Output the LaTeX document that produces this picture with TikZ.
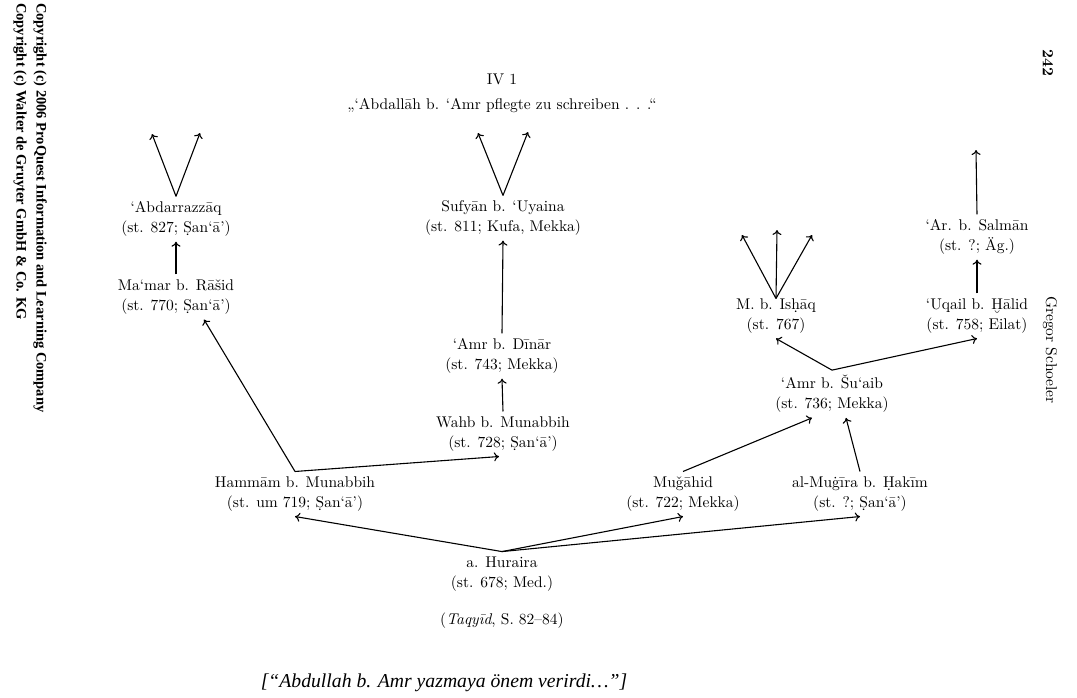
\documentclass[tikz,border=0pt]{standalone}
\usepackage{fontspec}
\usetikzlibrary{arrows.meta}
\setmainfont{lmroman10-regular.otf}[BoldFont=lmroman10-bold.otf,ItalicFont=lmroman10-italic.otf]
\newfontfamily\timesfont{Liberation Serif}
\tikzset{
	person/.style={align=center,inner sep=5pt,font=\fontsize{15.5}{20}\selectfont},
	link/.style={-{To[length=5pt,width=9pt]},line width=1.1pt},
}
\begin{document}
\begin{tikzpicture}
			\begin{scope}[x={1pt},y={-1pt}]
				\useasboundingbox (0,0) rectangle (1077,697);

				% page margins
				\node[rotate=-90,anchor=north west,align=left,inner sep=0pt,font=\timesfont\bfseries\fontsize{14.5}{20}\selectfont] (copyright) at (47,3) {Copyright (c) 2006 ProQuest Information and Learning Company\\Copyright (c) Walter de Gruyter GmbH \& Co. KG};
				\node[rotate=-90,inner sep=0pt,font=\fontsize{15.5}{20}\selectfont\bfseries] (pagenum) at (1048,63) {242};
				\node[rotate=-90,inner sep=0pt,font=\fontsize{15.5}{20}\selectfont] (author) at (1050,350) {Gregor Schoeler};

				% heading
				\node[person] (title) at (502,79) {IV 1};
				\node[person] (quote) at (502,106) {„‘Abdallāh b. ‘Amr pflegte zu schreiben . . .“};

				% transmitters
				\node[person] (abd) at (176,219) {‘Abdarrazzāq\\(st. 827; Ṣan‘ā’)};
				\node[person] (mamar) at (176,297) {Ma‘mar b. Rāšid\\(st. 770; Ṣan‘ā’)};
				\node[person] (sufyan) at (503,218) {Sufyān b. ‘Uyaina\\(st. 811; Kufa, Mekka)};
				\node[person] (dinar) at (502,356) {‘Amr b. Dīnār\\(st. 743; Mekka)};
				\node[person] (wahb) at (503,434) {Wahb b. Munabbih\\(st. 728; Ṣan‘ā’)};
				\node[person] (hammam) at (295,494) {Hammām b. Munabbih\\(st. um 719; Ṣan‘ā’)};
				\node[person] (mugahid) at (683,494) {Muǧāhid\\(st. 722; Mekka)};
				\node[person] (mugira) at (860,494) {al-Muġīra b. Ḥakīm\\(st. ?; Ṣan‘ā’)};
				\node[person] (huraira) at (502,574) {a. Huraira\\(st. 678; Med.)};
				\node[person] (suaib) at (832,394) {‘Amr b. Šu‘aib\\(st. 736; Mekka)};
				\node[person] (ishaq) at (776,316) {M. b. Isḥāq\\(st. 767)};
				\node[person] (uqail) at (977,316) {‘Uqail b. Ḫālid\\(st. 758; Eilat)};
				\node[person] (salman) at (977,237) {‘Ar. b. Salmān\\(st. ?; Äg.)};

				\node[person] (source) at (502,621) {(\textit{Taqyīd}, S. 82--84)};
				\node[inner sep=0pt,font=\timesfont\itshape\fontsize{19.7}{24}\selectfont] (transl) at (444,683) {[“Abdullah b. Amr yazmaya önem verirdi…”]};

				% open ends
				\coordinate (abdL) at (152,134);
				\coordinate (abdR) at (200,133);
				\coordinate (sufyanL) at (478,133);
				\coordinate (sufyanR) at (528,132);
				\coordinate (ishaqL) at (742,235);
				\coordinate (ishaqM) at (777,230);
				\coordinate (ishaqR) at (812,235);
				\coordinate (salmanU) at (976,150);

				% links
				\draw[link] (huraira.north) -- (hammam.south);
				\draw[link] (huraira.north) -- (mugahid.south);
				\draw[link] (huraira.north) -- (mugira.south);

				\draw[link] (hammam.north) -- ([xshift=28pt]mamar.south);
				\draw[link] (hammam.north) -- ([xshift=-4pt]wahb.south);
				\draw[link] (mamar.north) -- (abd.south);
				\draw[link] (abd.north) -- (abdL);
				\draw[link] (abd.north) -- (abdR);

				\draw[link] (wahb.north) -- (dinar.south);
				\draw[link] (dinar.north) -- (sufyan.south);
				\draw[link] (sufyan.north) -- (sufyanL);
				\draw[link] (sufyan.north) -- (sufyanR);

				\draw[link] (mugahid.north) -- ([xshift=-20pt]suaib.south);
				\draw[link] (mugira.north) -- ([xshift=14pt]suaib.south);
				\draw[link] (suaib.north) -- (ishaq.south);
				\draw[link] (suaib.north) -- (uqail.south);

				\draw[link] ([yshift=-5pt]ishaq.north) -- (ishaqL);
				\draw[link] ([yshift=-5pt]ishaq.north) -- (ishaqM);
				\draw[link] ([yshift=-5pt]ishaq.north) -- (ishaqR);

				\draw[link] (uqail.north) -- (salman.south);
				\draw[link] (salman.north) -- (salmanU);
			\end{scope}
		\end{tikzpicture}
\end{document}
